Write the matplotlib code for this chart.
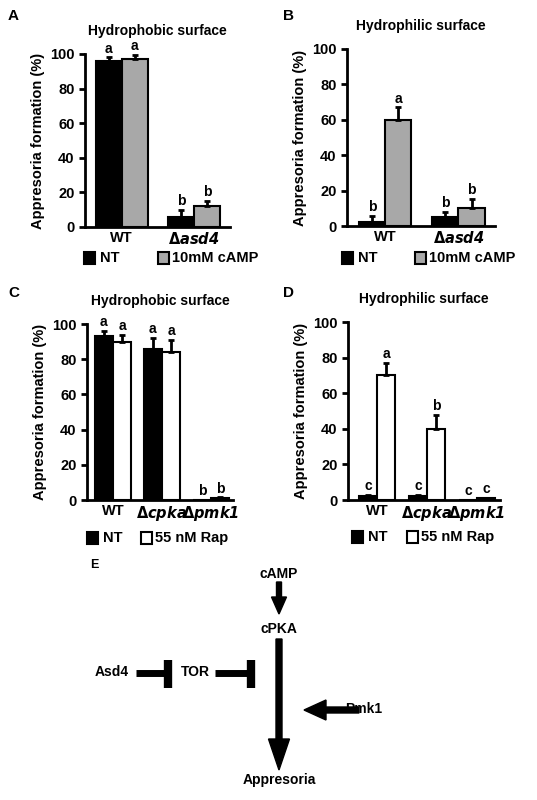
import numpy as np
import matplotlib.pyplot as plt
from matplotlib.patches import Rectangle, FancyArrow

plt.rcParams['font.family'] = ['Liberation Sans', 'DejaVu Sans']
plt.rcParams['font.weight'] = 'bold'

# panel data: NT / treated values, upward error, significance letters
a_groups = ['WT', r'$\Delta\mathbfit{asd4}$']
a_nt = [96, 6]; a_tr = [97, 12]
a_nt_err = [2, 4]; a_tr_err = [2.5, 3]
a_nt_let = ['a', 'b']; a_tr_let = ['a', 'b']

b_groups = ['WT', r'$\Delta\mathbfit{asd4}$']
b_nt = [2.5, 5]; b_tr = [60, 10]
b_nt_err = [3, 3]; b_tr_err = [7, 5.5]
b_nt_let = ['b', 'b']; b_tr_let = ['a', 'b']

c_groups = ['WT', r'$\Delta\mathbfit{cpka}$', r'$\Delta\mathbfit{pmk1}$']
c_nt = [93, 86, 0]; c_tr = [90, 84, 1]
c_nt_err = [3, 6, 0]; c_tr_err = [4, 7, 0.5]
c_nt_let = ['a', 'a', 'b']; c_tr_let = ['a', 'a', 'b']

d_groups = ['WT', r'$\Delta\mathbfit{cpka}$', r'$\Delta\mathbfit{pmk1}$']
d_nt = [2, 2, 0]; d_tr = [70, 40, 1]
d_nt_err = [1, 1, 0]; d_tr_err = [7, 8, 0.3]
d_nt_let = ['c', 'c', 'c']; d_tr_let = ['a', 'b', 'c']

W, H = 537, 800
fig = plt.figure(figsize=(W / 100, H / 100), dpi=100)


def rect(l, t, r, b):
    return [l / W, 1 - b / H, (r - l) / W, (b - t) / H]


def panel(box, groups, nt, tr, nte, tre, ntl, trl, tcol, title, xlim, w):
    ax = fig.add_axes(rect(*box))
    x = np.arange(len(groups))
    ax.bar(x - w / 2, nt, w, color='black', edgecolor='black', lw=1.5)
    ax.bar(x + w / 2, tr, w, color=tcol, edgecolor='black', lw=1.5)
    for xs, v, e, l in [(x - w / 2, nt, nte, ntl), (x + w / 2, tr, tre, trl)]:
        ax.errorbar(xs, v, yerr=[np.zeros(len(v)), e], fmt='none', ecolor='black',
                    elinewidth=2, capsize=2.5, capthick=2)
        for xi, vi, ei, li in zip(xs, v, e, l):
            ax.text(xi, vi + ei + 1, li, ha='center', va='bottom', fontsize=10, fontweight='bold')
    ax.set_xlim(*xlim)
    ax.set_ylim(0, 100)
    ax.set_yticks(range(0, 101, 20))
    ax.set_xticks(x)
    ax.set_xticklabels(groups, fontsize=10.5, fontweight='bold')
    ax.tick_params(axis='x', length=0, pad=3)
    ax.tick_params(axis='y', labelsize=10.5, width=2, length=4)
    for s in ['top', 'right']:
        ax.spines[s].set_visible(False)
    for s in ['left', 'bottom']:
        ax.spines[s].set_linewidth(2)
    ax.set_ylabel('Appresoria formation (%)', fontsize=10.5, fontweight='bold')
    ax.set_title(title, fontsize=10, fontweight='bold', pad=14)
    return ax


panel((85, 54, 230, 227), a_groups, a_nt, a_tr, a_nt_err, a_tr_err, a_nt_let, a_tr_let,
      '#a8a8a8', 'Hydrophobic surface', (-0.51, 1.5), 0.36)
panel((347, 49, 495, 226), b_groups, b_nt, b_tr, b_nt_err, b_tr_err, b_nt_let, b_tr_let,
      '#a8a8a8', 'Hydrophilic surface', (-0.52, 1.5), 0.36)
panel((87, 324, 233, 500), c_groups, c_nt, c_tr, c_nt_err, c_tr_err, c_nt_let, c_tr_let,
      'white', 'Hydrophobic surface', (-0.53, 2.45), 0.37)
panel((348, 322, 500, 500), d_groups, d_nt, d_tr, d_nt_err, d_tr_err, d_nt_let, d_tr_let,
      'white', 'Hydrophilic surface', (-0.58, 2.46), 0.36)

# overlay in pixel coordinates for labels, legends and the pathway sketch
ov = fig.add_axes([0, 0, 1, 1])
ov.set_xlim(0, W); ov.set_ylim(H, 0); ov.axis('off')

for lx, ly, l in [(8, 16, 'A'), (283, 16, 'B'), (8, 293, 'C'), (283, 293, 'D')]:
    ov.text(lx, ly, l, fontsize=11, fontweight='bold', va='center')
ov.text(90, 565, 'E', fontsize=9, fontweight='bold', va='center')

legends = [(84, 158, 258, '#a8a8a8', '10mM cAMP'), (342, 415, 258, '#a8a8a8', '10mM cAMP'),
           (87, 141, 538, 'white', '55 nM Rap'), (352, 407, 537, 'white', '55 nM Rap')]
for x1, x2, yy, col, lab in legends:
    ov.add_patch(Rectangle((x1, yy - 6), 11, 12, fc='black', ec='black', lw=1.5))
    ov.text(x1 + 16, yy, 'NT', fontsize=10.5, fontweight='bold', va='center')
    ov.add_patch(Rectangle((x2, yy - 6), 11, 12, fc=col, ec='black', lw=1.5))
    ov.text(x2 + 14, yy, lab, fontsize=10.5, fontweight='bold', va='center')

fs = 10
ov.text(279, 574, 'cAMP', ha='center', va='center', fontsize=fs, fontweight='bold')
ov.text(279, 629, 'cPKA', ha='center', va='center', fontsize=fs, fontweight='bold')
ov.text(279, 780, 'Appresoria', ha='center', va='center', fontsize=fs, fontweight='bold')
ov.text(112, 672, 'Asd4', ha='center', va='center', fontsize=fs, fontweight='bold')
ov.text(195, 672, 'TOR', ha='center', va='center', fontsize=fs, fontweight='bold')
ov.text(364, 709, 'Pmk1', ha='center', va='center', fontsize=fs, fontweight='bold')

ov.add_patch(FancyArrow(279, 582, 0, 32, width=5, head_width=15, head_length=17,
                        length_includes_head=True, color='black'))
ov.add_patch(FancyArrow(279, 639, 0, 131, width=6, head_width=21, head_length=31,
                        length_includes_head=True, color='black'))
ov.add_patch(FancyArrow(359, 710, -55, 0, width=6, head_width=20, head_length=22,
                        length_includes_head=True, color='black'))
ov.plot([136, 168], [673, 673], color='black', lw=5, solid_capstyle='butt')
ov.plot([168, 168], [660, 688], color='black', lw=6, solid_capstyle='butt')
ov.plot([215, 251], [673, 673], color='black', lw=5, solid_capstyle='butt')
ov.plot([251, 251], [660, 688], color='black', lw=6, solid_capstyle='butt')

fig.savefig('out.png', dpi=100)
